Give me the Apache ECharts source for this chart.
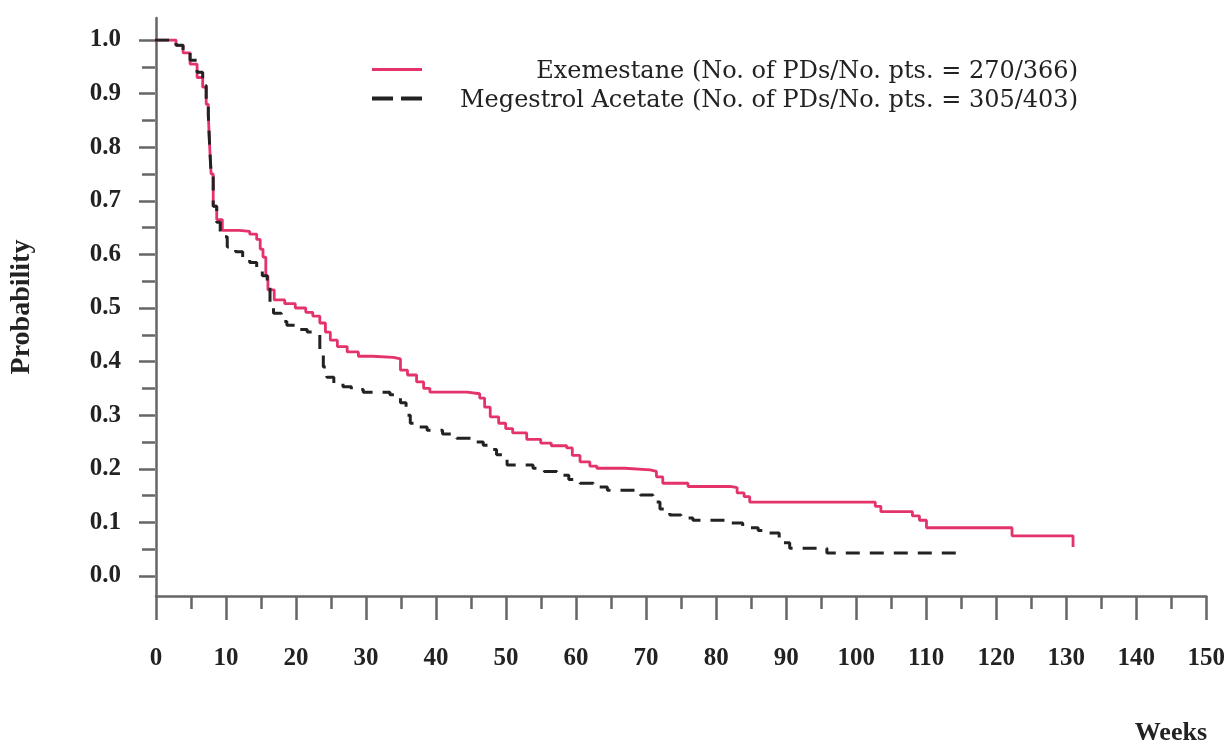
<!DOCTYPE html>
<html>
<head>
<meta charset="utf-8">
<script src="https://cdn.jsdelivr.net/npm/echarts@6/dist/echarts.min.js"></script>
<style>
html,body{margin:0;padding:0;background:#fff;}
#chart{width:1228px;height:746px;}
</style>
</head>
<body>
<div id="chart"></div>
<script>
// ---- data ----
const seriesNames = [
  'Exemestane (No. of PDs/No. pts. = 270/366)',
  'Megestrol Acetate (No. of PDs/No. pts. = 305/403)'
];
const exeWeeks = [0,2,3,4,5,6,6.8,7.3,7.6,7.8,8.0,8.3,8.8,9.6,12,13.5,14.5,15.0,15.4,15.8,16.1,17,18.5,20,21.5,22.5,23.5,24.3,25,26,27.4,29,31,34,35,36,37.3,38.3,39.2,44.5,46.3,47,47.8,49,50,51,53,55,56.5,58.7,59.5,60.6,62,63,67,70.6,71.5,72.4,76,82,83,84,84.8,102.7,103.5,108,109,110,122.2,130.9];
const exeProb  = [1.0,1.0,0.99,0.976,0.955,0.93,0.912,0.88,0.86,0.80,0.75,0.69,0.665,0.645,0.643,0.638,0.628,0.61,0.595,0.56,0.534,0.515,0.508,0.500,0.492,0.485,0.472,0.455,0.44,0.428,0.418,0.41,0.408,0.405,0.384,0.375,0.362,0.35,0.343,0.340,0.332,0.315,0.297,0.285,0.275,0.267,0.255,0.248,0.243,0.239,0.225,0.213,0.205,0.201,0.198,0.195,0.185,0.173,0.167,0.165,0.155,0.148,0.138,0.130,0.120,0.112,0.104,0.090,0.075,0.054];
const megWeeks = [0,2.5,3,4,5,6,6.8,7.3,7.6,7.8,8.0,8.3,8.8,9.3,10.3,11.5,12.5,13.5,14.5,15.3,16,16.4,16.9,18,18.8,20.5,21.7,22.5,23.5,24,24.5,25.5,26.8,28,29.7,33.5,35,35.8,36.4,37.5,38.8,41,43,45,46.8,48,48.7,50.2,53.9,55.5,57.3,59,60.6,62.5,64.5,69.2,71,72,73.4,75,76.7,81.5,83.8,86,87.3,89,89.6,90.5,95.8,114.4];
const megProb  = [1.0,1.0,0.99,0.978,0.962,0.94,0.915,0.88,0.86,0.80,0.75,0.69,0.66,0.633,0.614,0.605,0.595,0.585,0.571,0.56,0.547,0.51,0.49,0.475,0.468,0.46,0.455,0.453,0.416,0.39,0.371,0.36,0.353,0.348,0.343,0.338,0.323,0.30,0.285,0.278,0.272,0.265,0.257,0.25,0.244,0.236,0.226,0.207,0.201,0.195,0.188,0.18,0.173,0.166,0.16,0.151,0.138,0.125,0.114,0.108,0.104,0.099,0.09,0.085,0.08,0.067,0.062,0.052,0.043,0.030];
const xTickLabels = [0,10,20,30,40,50,60,70,80,90,100,110,120,130,140,150];
const yTickLabels = ['0.0','0.1','0.2','0.3','0.4','0.5','0.6','0.7','0.8','0.9','1.0'];

const zip = (a, b) => a.map((v, i) => [v, b[i]]);
const AX = '#666';
const RED = '#e3336a';
const SERIF = '"Liberation Serif", "DejaVu Serif", serif';

const chart = echarts.init(document.getElementById('chart'));
chart.setOption({
  backgroundColor: '#fff',
  animation: false,
  grid: [
    {left: 155, right: 21, top: 40, bottom: 170},   // data grid (0..1)
    {left: 155, right: 21, top: 18, bottom: 150}    // frame grid (axis lines)
  ],
  legend: {
    orient: 'vertical',
    left: 365, top: 50,
    itemWidth: 50, itemHeight: 14, itemGap: 0,
    data: [
      {name: seriesNames[0], itemStyle: {opacity: 0}, lineStyle: {color: RED, width: 3, type: 'solid'}},
      {name: seriesNames[1], itemStyle: {opacity: 0}, lineStyle: {color: '#222', width: 4, type: [21, 8]}}
    ],
    formatter: n => '{t|' + n + '}',
    textStyle: {
      lineHeight: 24,
      rich: {t: {width: 651, align: 'right', fontFamily: '"DejaVu Serif", serif', fontSize: 24, color: '#222', lineHeight: 24, padding: [5, 0, 0, 0]}}
    }
  },
  xAxis: [
    {gridIndex: 0, type: 'value', min: 0, max: 150, show: false},
    {gridIndex: 1, type: 'value', min: 0, max: 150, interval: 10,
     axisLine: {show: true, lineStyle: {color: AX, width: 2.5}},
     axisTick: {show: true, length: 24, lineStyle: {color: AX, width: 2.5}},
     minorTick: {show: true, splitNumber: 2, length: 13, lineStyle: {color: AX, width: 2.5}},
     splitLine: {show: false}, minorSplitLine: {show: false},
     axisLabel: {margin: 50, fontFamily: SERIF, fontWeight: 'bold', fontSize: 25, color: '#222',
                 formatter: v => String(xTickLabels[Math.round(v / 10)])}}
  ],
  yAxis: [
    {gridIndex: 0, type: 'value', min: 0, max: 1, interval: 0.1,
     axisLine: {show: false},
     axisTick: {show: true, length: 16, lineStyle: {color: AX, width: 2.5}},
     minorTick: {show: true, splitNumber: 2, length: 13, lineStyle: {color: AX, width: 2.5}},
     splitLine: {show: false}, minorSplitLine: {show: false},
     axisLabel: {margin: 34, fontFamily: SERIF, fontWeight: 'bold', fontSize: 25, color: '#222',
                 formatter: v => yTickLabels[Math.round(v * 10)]}},
    {gridIndex: 1, type: 'value', min: 0, max: 1,
     axisLine: {show: true, lineStyle: {color: AX, width: 2.5}},
     axisTick: {show: false}, axisLabel: {show: false}, splitLine: {show: false},
     name: 'Probability', nameLocation: 'middle', nameRotate: 90, nameGap: 120,
     nameTextStyle: {fontFamily: SERIF, fontWeight: 'bold', fontSize: 28, color: '#222'}}
  ],
  graphic: [
    {type: 'text', right: 21, top: 720,
     style: {text: 'Weeks', font: 'bold 26px "Liberation Serif", serif', fill: '#222'}}
  ],
  series: [
    {name: seriesNames[0], type: 'line', step: 'end', xAxisIndex: 0, yAxisIndex: 0,
     symbol: 'none', data: zip(exeWeeks, exeProb), z: 3,
     lineStyle: {color: RED, width: 2.8}, itemStyle: {color: RED}},
    {name: seriesNames[1], type: 'line', step: 'end', xAxisIndex: 0, yAxisIndex: 0,
     symbol: 'none', data: zip(megWeeks, megProb), z: 4,
     lineStyle: {color: '#222', width: 3, type: [14, 10]}, itemStyle: {color: '#222'}}
  ]
});
</script>
</body>
</html>
